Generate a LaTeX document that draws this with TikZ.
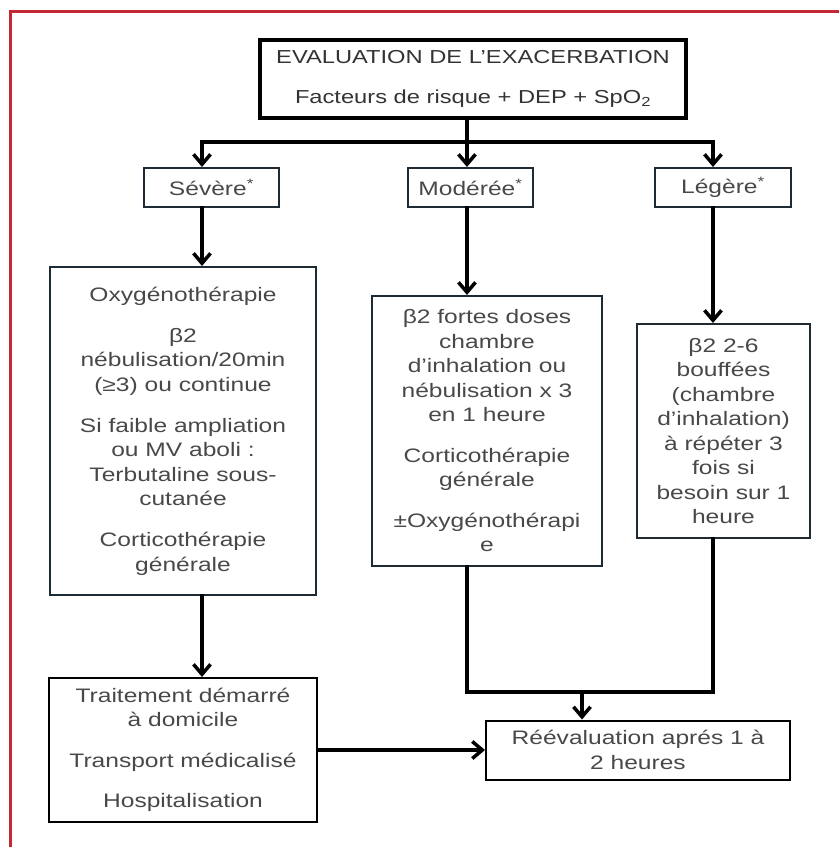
\documentclass[tikz,border=0pt]{standalone}
\usepackage{fontspec}
\setmainfont[FakeStretch=1.26]{Liberation Sans}
\usetikzlibrary{arrows.meta}
\definecolor{framered}{RGB}{196,40,52}
\definecolor{boxline}{RGB}{30,42,52}
\definecolor{txt}{RGB}{72,72,72}
\tikzset{
  box/.style = {draw = boxline, line width = 2pt, align = center, text = txt, inner sep = 0pt},
  grade/.style = {box, minimum height = 39pt},
  link/.style = {line width = 3.5pt, line cap = rect},
  flow/.style = {link, ->}
}
\begin{document}
\begin{tikzpicture}[x = 1pt, y = -1pt, font = \fontsize{19.5}{24.5}\selectfont, >={Straight Barb[length = 10pt, width = 17pt]}]
\useasboundingbox (0,0) rectangle (839,847);
\draw[framered, line width = 3pt] (10,847) -- (10,11) -- (839,11);
\node[box, draw = black, line width = 4pt, text = black!80, minimum width = 426pt, minimum height = 78pt, font = \fontsize{18.8}{24.5}\selectfont] at (473,79) (eval) {EVALUATION DE L'EXACERBATION\\[15.5pt]Facteurs de risque + DEP + SpO\textsubscript{2}};
\node[grade, minimum width = 135pt] at (211.5,187.5) (sev) {Sévère\textsuperscript{*}};
\node[grade, minimum width = 125pt] at (470.5,187.5) (mod) {Modérée\textsuperscript{*}};
\node[grade, minimum width = 136pt] at (723,187.5) (leg) {Légère\textsuperscript{*}};
\node[box, minimum width = 266pt, minimum height = 328pt] at (183,431) (oxy) {Oxygénothérapie\\[16.5pt]β2\\nébulisation/20min\\(≥3) ou continue\\[16.5pt]Si faible ampliation\\ou MV aboli :\\Terbutaline sous-\\cutanée\\[16.5pt]Corticothérapie\\générale};
\node[box, minimum width = 230pt, minimum height = 270pt] at (487,431) (fortes) {β2 fortes doses\\chambre\\d'inhalation ou\\nébulisation x 3\\en 1 heure\\[16pt]Corticothérapie\\générale\\[16pt]±Oxygénothérapi\\e};
\node[box, minimum width = 173pt, minimum height = 214pt] at (723.5,431) (bouff) {β2 2-6\\bouffées\\(chambre\\d'inhalation)\\à répéter 3\\fois si\\besoin sur 1\\heure};
\node[box, draw = black, minimum width = 268pt, minimum height = 144pt] at (183,750) (trait) {Traitement démarré\\à domicile\\[16pt]Transport médicalisé\\[16pt]Hospitalisation};
\node[box, draw = black, minimum width = 304pt, minimum height = 59pt] at (638,750) (reeval) {Réévaluation aprés 1 à\\2 heures};
\coordinate (b1) at (202,142);
\coordinate (b2) at (467,142);
\coordinate (b3) at (713,142);
\coordinate (m1) at (467,692);
\coordinate (m2) at (582,692);
\coordinate (m3) at (713,692);
\draw[link] (eval.south -| b2) -- (b2);
\draw[link] (b1) -- (b3);
\draw[flow] (b1) -- (b1 |- sev.north);
\draw[flow] (b2) -- (b2 |- mod.north);
\draw[flow] (b3) -- (b3 |- leg.north);
\draw[flow] (sev.south -| b1) -- (b1 |- oxy.north);
\draw[flow] (mod.south -| b2) -- (b2 |- fortes.north);
\draw[flow] (leg.south -| b3) -- (b3 |- bouff.north);
\draw[flow] (oxy.south -| b1) -- (b1 |- trait.north);
\draw[link] (fortes.south -| m1) -- (m1) -- (m3) -- (bouff.south -| m3);
\draw[flow] (m2) -- (m2 |- reeval.north);
\draw[flow] (trait.east) -- (reeval.west);
\end{tikzpicture}
\end{document}
